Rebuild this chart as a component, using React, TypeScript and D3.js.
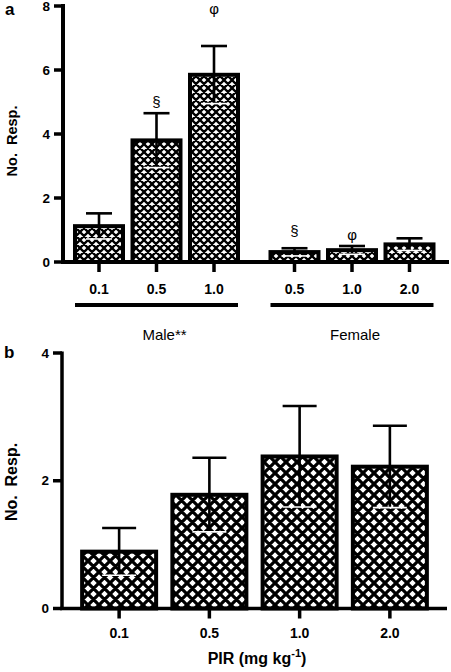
import React from "react";
import * as d3 from "d3";

// ---------- Panel a data ----------
const maleDoses = ["0.1", "0.5", "1.0"];
const maleMeans = [1.12, 3.8, 5.85];
const maleSem = [0.4, 0.85, 0.9];
const femaleDoses = ["0.5", "1.0", "2.0"];
const femaleMeans = [0.31, 0.37, 0.55];
const femaleSem = [0.12, 0.13, 0.19];
const groupLabels = ["Male**", "Female"];
const yTicksA = [0, 2, 4, 6, 8];
// annotations: group, index, symbol, value position
const annotGroup = [0, 0, 1, 1];
const annotIndex = [1, 2, 0, 1];
const annotSymbol = ["§", "φ", "§", "φ"];
const annotValue = [4.84, 7.75, 0.81, 0.69];

// ---------- Panel b data ----------
const dosesB = ["0.1", "0.5", "1.0", "2.0"];
const meansB = [0.89, 1.78, 2.38, 2.22];
const semB = [0.37, 0.58, 0.79, 0.64];
const yTicksB = [0, 2, 4];

const FONT = "'Liberation Sans', Arial, Helvetica, sans-serif";

function HatchPattern({ id, p, sw }: { id: string; p: number; sw: number }) {
  const d = [
    `M${-p},${p} L${p},${-p}`,
    `M0,${2 * p} L${2 * p},0`,
    `M${-p},${-p} L${2 * p},${2 * p}`,
    `M0,${-p} L${2 * p},${p}`,
    `M${-p},0 L${p},${2 * p}`,
    `M0,${p} L${p},0`,
  ].join(" ");
  return (
    <pattern id={id} patternUnits="userSpaceOnUse" width={p} height={p}>
      <rect x={0} y={0} width={p} height={p} fill="#fff" />
      <path d={d} stroke="#000" strokeWidth={sw} fill="none" />
    </pattern>
  );
}

function Bar({
  cx, w, y0, yTop, yHi, yLo, capHalf, fill,
}: {
  cx: number; w: number; y0: number; yTop: number; yHi: number; yLo: number; capHalf: number; fill: string;
}) {
  return (
    <g>
      <rect x={cx - w / 2} y={yTop} width={w} height={y0 - yTop} fill={fill} stroke="#000" strokeWidth={4} />
      <line x1={cx} x2={cx} y1={yHi} y2={yLo} stroke="#000" strokeWidth={2.6} />
      <line x1={cx - capHalf} x2={cx + capHalf} y1={yHi} y2={yHi} stroke="#000" strokeWidth={2.6} />
      <line x1={cx - capHalf} x2={cx + capHalf} y1={yLo} y2={yLo} stroke="#fff" strokeWidth={1.6} />
    </g>
  );
}

export default function App() {
  // ----- Panel a scales -----
  const yA = d3.scaleLinear().domain([0, 8]).range([262, 6]);
  const groupGap = 1.4;
  const slotA = d3.scaleLinear().domain([0, 2 + groupGap + 2]).range([99, 409.5]);
  const barWA = 48;
  const groups = [
    { doses: maleDoses, means: maleMeans, sem: maleSem },
    { doses: femaleDoses, means: femaleMeans, sem: femaleSem },
  ];
  const xA = (g: number, i: number) => slotA(i + g * (2 + groupGap) - (g ? 2 : 0) + (g ? 0 : 0));
  // slot positions: male 0,1,2 ; female 3.4,4.4,5.4
  const posA = (g: number, i: number) => slotA(g === 0 ? i : 2 + groupGap + i);

  // ----- Panel b scales -----
  const yB = d3.scaleLinear().domain([0, 4]).range([608.5, 353]);
  const xB = d3.scaleBand().domain(dosesB).range([74, 435]).paddingInner(0.18).paddingOuter(0.09);

  const axisXA = 63;
  const axisXB = 62;

  return (
    <svg
      width={451}
      height={672}
      style={{ position: "absolute", left: 0, top: 0, background: "#fff" }}
      fontFamily={FONT}
    >
      <defs>
        <HatchPattern id="hatchA" p={8} sw={2.3} />
        <HatchPattern id="hatchB" p={11} sw={3.2} />
      </defs>
      <rect x={0} y={0} width={451} height={672} fill="#fff" />

      {/* ================= Panel a ================= */}
      <text x={5} y={15} fontSize={17} fontWeight="bold">a</text>
      {groups.map((grp, g) =>
        grp.doses.map((dose, i) => {
          const cx = posA(g, i);
          return (
            <Bar
              key={`a-${g}-${i}`}
              cx={cx}
              w={barWA}
              y0={yA(0)}
              yTop={yA(grp.means[i])}
              yHi={yA(grp.means[i] + grp.sem[i])}
              yLo={yA(Math.max(0, grp.means[i] - grp.sem[i]))}
              capHalf={13}
              fill="url(#hatchA)"
            />
          );
        })
      )}
      {/* y axis a */}
      <line x1={axisXA} x2={axisXA} y1={yA(8) - 2} y2={yA(0) + 2} stroke="#000" strokeWidth={4} />
      {yTicksA.map((t) => (
        <g key={`ya-${t}`}>
          <line x1={axisXA - 9} x2={axisXA} y1={yA(t)} y2={yA(t)} stroke="#000" strokeWidth={3.5} />
          <text x={50} y={yA(t)} dy="0.35em" textAnchor="end" fontSize={13.5} fontWeight="bold">
            {t}
          </text>
        </g>
      ))}
      <text
        transform={`translate(17,${141}) rotate(-90)`}
        textAnchor="middle"
        fontSize={14.5}
        fontWeight="bold"
        xmlSpace="preserve"
      >
        {"No.  Resp."}
      </text>
      {/* x axis a */}
      <line x1={axisXA - 2} x2={449} y1={yA(0)} y2={yA(0)} stroke="#000" strokeWidth={4} />
      {groups.map((grp, g) =>
        grp.doses.map((dose, i) => {
          const cx = posA(g, i);
          return (
            <g key={`xa-${g}-${i}`}>
              <line x1={cx} x2={cx} y1={yA(0)} y2={yA(0) + 10} stroke="#000" strokeWidth={3.5} />
              <text x={cx} y={294} textAnchor="middle" fontSize={14} fontWeight="bold">
                {dose}
              </text>
            </g>
          );
        })
      )}
      {/* group lines */}
      {groups.map((grp, g) => {
        const x1 = posA(g, 0) - barWA / 2;
        const x2 = posA(g, grp.doses.length - 1) + barWA / 2;
        return (
          <g key={`grp-${g}`}>
            <line x1={x1} x2={x2} y1={305} y2={305} stroke="#000" strokeWidth={4} />
            <text x={(x1 + x2) / 2 + (g === 0 ? 8 : 3)} y={340} textAnchor="middle" fontSize={15}>
              {groupLabels[g]}
            </text>
          </g>
        );
      })}
      {/* annotations */}
      {annotSymbol.map((s, k) => (
        <text
          key={`an-${k}`}
          x={posA(annotGroup[k], annotIndex[k])}
          y={yA(annotValue[k])}
          textAnchor="middle"
          fontSize={15}
        >
          {s}
        </text>
      ))}

      {/* ================= Panel b ================= */}
      <text x={4} y={358} fontSize={17} fontWeight="bold">b</text>
      {dosesB.map((dose, i) => {
        const cx = (xB(dose) as number) + xB.bandwidth() / 2;
        return (
          <Bar
            key={`b-${i}`}
            cx={cx}
            w={xB.bandwidth()}
            y0={yB(0)}
            yTop={yB(meansB[i])}
            yHi={yB(meansB[i] + semB[i])}
            yLo={yB(Math.max(0, meansB[i] - semB[i]))}
            capHalf={17}
            fill="url(#hatchB)"
          />
        );
      })}
      <line x1={axisXB} x2={axisXB} y1={yB(4) - 1.5} y2={yB(0) + 1.5} stroke="#000" strokeWidth={3.5} />
      {yTicksB.map((t) => (
        <g key={`yb-${t}`}>
          <line x1={axisXB - 9} x2={axisXB} y1={yB(t)} y2={yB(t)} stroke="#000" strokeWidth={3.5} />
          <text x={49} y={yB(t)} dy="0.35em" textAnchor="end" fontSize={13.5} fontWeight="bold">
            {t}
          </text>
        </g>
      ))}
      <text
        transform={`translate(17,${482}) rotate(-90)`}
        textAnchor="middle"
        fontSize={16}
        fontWeight="bold"
        xmlSpace="preserve"
      >
        {"No.  Resp."}
      </text>
      <line x1={axisXB - 2} x2={447} y1={yB(0)} y2={yB(0)} stroke="#000" strokeWidth={3.5} />
      {dosesB.map((dose, i) => {
        const cx = (xB(dose) as number) + xB.bandwidth() / 2;
        return (
          <g key={`xb-${i}`}>
            <line x1={cx} x2={cx} y1={yB(0)} y2={yB(0) + 10} stroke="#000" strokeWidth={3.5} />
            <text x={cx} y={638} textAnchor="middle" fontSize={14} fontWeight="bold">
              {dose}
            </text>
          </g>
        );
      })}
      <text x={257} y={664} textAnchor="middle" fontSize={16} fontWeight="bold">
        PIR (mg kg
        <tspan dy={-7} fontSize={11}>-1</tspan>
        <tspan dy={7}>)</tspan>
      </text>
    </svg>
  );
}
